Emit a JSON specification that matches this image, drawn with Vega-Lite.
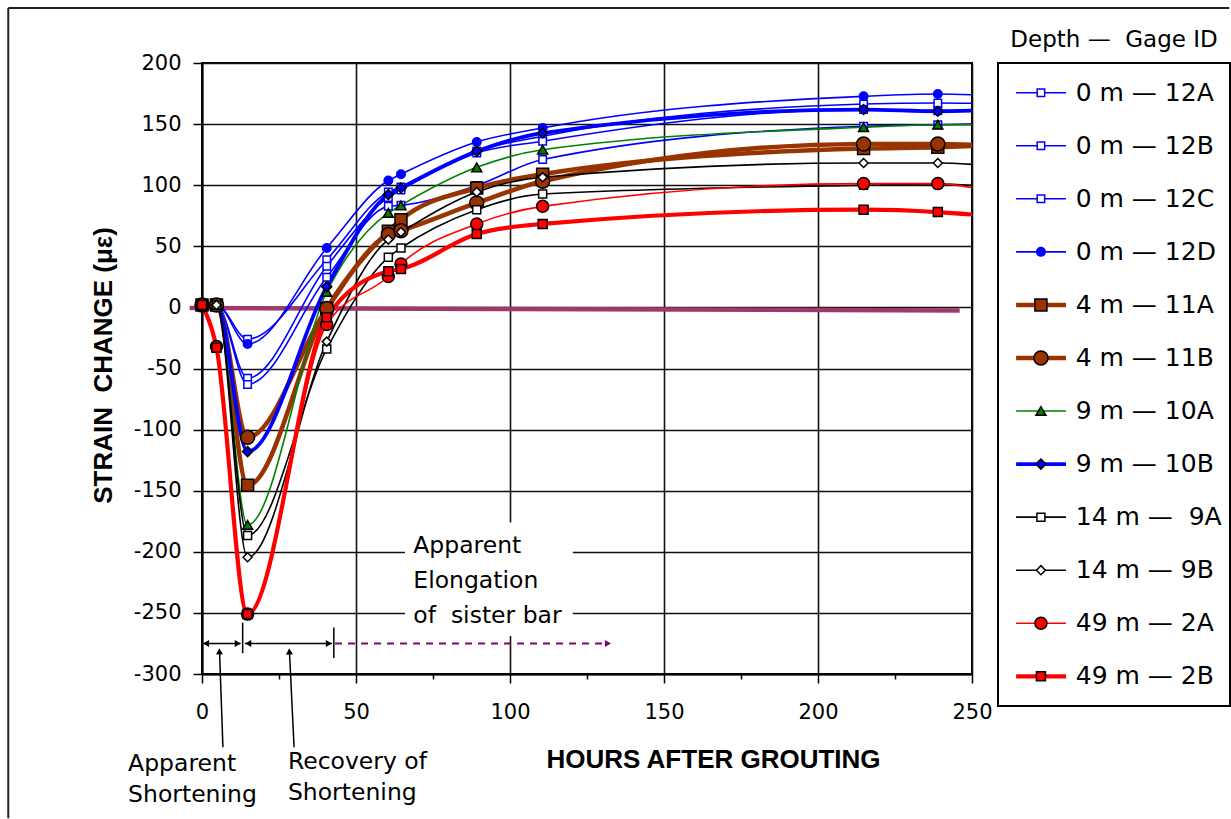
{
  "$schema": "https://vega.github.io/schema/vega-lite/v6.json",
  "background": "white",
  "padding": {"left": 6, "top": 6, "right": 0, "bottom": 0},
  "bounds": "flush",
  "spacing": 26,
  "config": {
    "view": {"stroke": "black", "strokeWidth": 2},
    "font": "DejaVu Sans",
    "text": {"font": "DejaVu Sans", "color": "black"}
  },
  "datasets": {
    "strain": [
      {"gage": "12A", "hours": 0, "strain": 2}, {"gage": "12A", "hours": 4.7, "strain": 2}, {"gage": "12A", "hours": 14.8, "strain": -26}, {"gage": "12A", "hours": 40.5, "strain": 39}, {"gage": "12A", "hours": 60.5, "strain": 94.5}, {"gage": "12A", "hours": 64.6, "strain": 98.5}, {"gage": "12A", "hours": 89.2, "strain": 128}, {"gage": "12A", "hours": 110.6, "strain": 140}, {"gage": "12A", "hours": 214.8, "strain": 166.4}, {"gage": "12A", "hours": 238.9, "strain": 167.3}, {"gage": "12A", "hours": 250, "strain": 167},
      {"gage": "12B", "hours": 0, "strain": 2}, {"gage": "12B", "hours": 4.7, "strain": 2}, {"gage": "12B", "hours": 14.8, "strain": -58}, {"gage": "12B", "hours": 40.5, "strain": 33.6}, {"gage": "12B", "hours": 60.5, "strain": 90}, {"gage": "12B", "hours": 64.6, "strain": 96}, {"gage": "12B", "hours": 89.2, "strain": 126.4}, {"gage": "12B", "hours": 110.6, "strain": 136}, {"gage": "12B", "hours": 214.8, "strain": 162}, {"gage": "12B", "hours": 238.9, "strain": 161}, {"gage": "12B", "hours": 250, "strain": 161},
      {"gage": "12C", "hours": 0, "strain": 2}, {"gage": "12C", "hours": 4.7, "strain": 2}, {"gage": "12C", "hours": 14.8, "strain": -63}, {"gage": "12C", "hours": 40.5, "strain": 24.6}, {"gage": "12C", "hours": 60.5, "strain": 82.7}, {"gage": "12C", "hours": 64.6, "strain": 83.5}, {"gage": "12C", "hours": 89.2, "strain": 99.7}, {"gage": "12C", "hours": 110.6, "strain": 121}, {"gage": "12C", "hours": 214.8, "strain": 148.2}, {"gage": "12C", "hours": 238.9, "strain": 149.5}, {"gage": "12C", "hours": 250, "strain": 150},
      {"gage": "12D", "hours": 0, "strain": 2}, {"gage": "12D", "hours": 4.7, "strain": 2}, {"gage": "12D", "hours": 14.8, "strain": -30}, {"gage": "12D", "hours": 40.5, "strain": 48.6}, {"gage": "12D", "hours": 60.5, "strain": 103.8}, {"gage": "12D", "hours": 64.6, "strain": 109}, {"gage": "12D", "hours": 89.2, "strain": 135.4}, {"gage": "12D", "hours": 110.6, "strain": 146.8}, {"gage": "12D", "hours": 214.8, "strain": 172.7}, {"gage": "12D", "hours": 238.9, "strain": 174.6}, {"gage": "12D", "hours": 250, "strain": 174},
      {"gage": "11A", "hours": 0, "strain": 2}, {"gage": "11A", "hours": 4.7, "strain": 2}, {"gage": "11A", "hours": 14.8, "strain": -145.6}, {"gage": "11A", "hours": 40.5, "strain": -1}, {"gage": "11A", "hours": 60.5, "strain": 62.3}, {"gage": "11A", "hours": 64.6, "strain": 71.8}, {"gage": "11A", "hours": 89.2, "strain": 97.7}, {"gage": "11A", "hours": 110.6, "strain": 109}, {"gage": "11A", "hours": 214.8, "strain": 130}, {"gage": "11A", "hours": 238.9, "strain": 131}, {"gage": "11A", "hours": 250, "strain": 132},
      {"gage": "11B", "hours": 0, "strain": 2}, {"gage": "11B", "hours": 4.7, "strain": 2}, {"gage": "11B", "hours": 14.8, "strain": -106.3}, {"gage": "11B", "hours": 40.5, "strain": -1}, {"gage": "11B", "hours": 60.5, "strain": 59.6}, {"gage": "11B", "hours": 64.6, "strain": 62.8}, {"gage": "11B", "hours": 89.2, "strain": 85.5}, {"gage": "11B", "hours": 110.6, "strain": 103.2}, {"gage": "11B", "hours": 214.8, "strain": 133.7}, {"gage": "11B", "hours": 238.9, "strain": 133.7}, {"gage": "11B", "hours": 250, "strain": 133},
      {"gage": "10A", "hours": 0, "strain": 2}, {"gage": "10A", "hours": 4.7, "strain": 2}, {"gage": "10A", "hours": 14.8, "strain": -178}, {"gage": "10A", "hours": 40.5, "strain": 12.6}, {"gage": "10A", "hours": 60.5, "strain": 77.3}, {"gage": "10A", "hours": 64.6, "strain": 83.5}, {"gage": "10A", "hours": 89.2, "strain": 114.6}, {"gage": "10A", "hours": 110.6, "strain": 129}, {"gage": "10A", "hours": 214.8, "strain": 147.4}, {"gage": "10A", "hours": 238.9, "strain": 149.5}, {"gage": "10A", "hours": 250, "strain": 149.5},
      {"gage": "10B", "hours": 0, "strain": 2}, {"gage": "10B", "hours": 4.7, "strain": 2}, {"gage": "10B", "hours": 14.8, "strain": -118}, {"gage": "10B", "hours": 40.5, "strain": 17}, {"gage": "10B", "hours": 60.5, "strain": 92.3}, {"gage": "10B", "hours": 64.6, "strain": 97.7}, {"gage": "10B", "hours": 89.2, "strain": 127.7}, {"gage": "10B", "hours": 110.6, "strain": 142.7}, {"gage": "10B", "hours": 214.8, "strain": 161.9}, {"gage": "10B", "hours": 238.9, "strain": 160.5}, {"gage": "10B", "hours": 250, "strain": 161},
      {"gage": "9A", "hours": 0, "strain": 2}, {"gage": "9A", "hours": 4.7, "strain": 2}, {"gage": "9A", "hours": 14.8, "strain": -186.6}, {"gage": "9A", "hours": 40.5, "strain": -34}, {"gage": "9A", "hours": 60.5, "strain": 41}, {"gage": "9A", "hours": 64.6, "strain": 48.6}, {"gage": "9A", "hours": 89.2, "strain": 80}, {"gage": "9A", "hours": 110.6, "strain": 92.8}, {"gage": "9A", "hours": 214.8, "strain": 100}, {"gage": "9A", "hours": 238.9, "strain": 101}, {"gage": "9A", "hours": 250, "strain": 100},
      {"gage": "9B", "hours": 0, "strain": 2}, {"gage": "9B", "hours": 4.7, "strain": 2}, {"gage": "9B", "hours": 14.8, "strain": -204.5}, {"gage": "9B", "hours": 40.5, "strain": -28}, {"gage": "9B", "hours": 60.5, "strain": 55.5}, {"gage": "9B", "hours": 64.6, "strain": 61.7}, {"gage": "9B", "hours": 89.2, "strain": 94.5}, {"gage": "9B", "hours": 110.6, "strain": 106.5}, {"gage": "9B", "hours": 214.8, "strain": 118.2}, {"gage": "9B", "hours": 238.9, "strain": 118.2}, {"gage": "9B", "hours": 250, "strain": 117},
      {"gage": "2A", "hours": 0, "strain": 2}, {"gage": "2A", "hours": 4.7, "strain": -32}, {"gage": "2A", "hours": 14.8, "strain": -251}, {"gage": "2A", "hours": 40.5, "strain": -14}, {"gage": "2A", "hours": 60.5, "strain": 25.3}, {"gage": "2A", "hours": 64.6, "strain": 35.5}, {"gage": "2A", "hours": 89.2, "strain": 68.3}, {"gage": "2A", "hours": 110.6, "strain": 82.7}, {"gage": "2A", "hours": 214.8, "strain": 101.3}, {"gage": "2A", "hours": 238.9, "strain": 101.3}, {"gage": "2A", "hours": 250, "strain": 98},
      {"gage": "2B", "hours": 0, "strain": 2}, {"gage": "2B", "hours": 4.7, "strain": -33}, {"gage": "2B", "hours": 14.8, "strain": -251}, {"gage": "2B", "hours": 40.5, "strain": -8}, {"gage": "2B", "hours": 60.5, "strain": 29.5}, {"gage": "2B", "hours": 64.6, "strain": 31.4}, {"gage": "2B", "hours": 89.2, "strain": 60}, {"gage": "2B", "hours": 110.6, "strain": 68.3}, {"gage": "2B", "hours": 214.8, "strain": 80}, {"gage": "2B", "hours": 238.9, "strain": 78}, {"gage": "2B", "hours": 250, "strain": 76}
    ],
    "gages": [
      {"gage": "12A", "label": "0 m — 12A"},
      {"gage": "12B", "label": "0 m — 12B"},
      {"gage": "12C", "label": "0 m — 12C"},
      {"gage": "12D", "label": "0 m — 12D"},
      {"gage": "11A", "label": "4 m — 11A"},
      {"gage": "11B", "label": "4 m — 11B"},
      {"gage": "10A", "label": "9 m — 10A"},
      {"gage": "10B", "label": "9 m — 10B"},
      {"gage": "9A", "label": "14 m —\u00a0 9A"},
      {"gage": "9B", "label": "14 m — 9B"},
      {"gage": "2A", "label": "49 m — 2A"},
      {"gage": "2B", "label": "49 m — 2B"}
    ]
  },
  "hconcat": [
    {
      "width": 770,
      "height": 611,
      "data": {"values": [{}]},
      "layer": [
        {
          "mark": {"type": "rule", "clip": false, "stroke": "#222222", "strokeWidth": 2},
          "encoding": {
            "x": {"datum": -62.9, "type": "quantitative"},
            "x2": {"datum": 333.5},
            "y": {"datum": 245, "type": "quantitative"}
          }
        },
        {
          "mark": {"type": "rule", "clip": false, "stroke": "#222222", "strokeWidth": 2},
          "encoding": {
            "x": {"datum": -62.9, "type": "quantitative"},
            "y": {"datum": 245, "type": "quantitative"},
            "y2": {"datum": -418}
          }
        },
        {
          "mark": {"type": "rect", "clip": false, "fill": "white", "stroke": null},
          "encoding": {
            "x": {"datum": 65.9, "type": "quantitative"},
            "x2": {"datum": 120.4},
            "y": {"datum": -176, "type": "quantitative"},
            "y2": {"datum": -269}
          }
        },
        {
          "mark": {"type": "rule", "clip": false, "stroke": "#9C3A6B", "strokeWidth": 4.5},
          "encoding": {
            "x": {"datum": -4, "type": "quantitative"},
            "x2": {"datum": 246},
            "y": {"datum": -0.5, "type": "quantitative"},
            "y2": {"datum": -2.5}
          }
        },
        {
          "data": {"name": "strain"},
          "mark": {"type": "line", "interpolate": "monotone", "clip": true},
          "encoding": {
            "x": {
              "field": "hours", "type": "quantitative",
              "scale": {"domain": [0, 250], "nice": false, "zero": false},
              "axis": {
                "title": "HOURS AFTER GROUTING",
                "values": [0, 25, 50, 75, 100, 125, 150, 175, 200, 225, 250],
                "labelExpr": "datum.value % 50 === 0 ? '' + datum.value : ''",
                "labelFont": "DejaVu Sans", "labelFontSize": 21, "labelColor": "black",
                "labelPadding": 18, "labelFlush": false, "labelOverlap": false, "labelBound": false,
                "tickColor": "black", "tickWidth": 1.5,
                "tickSize": {"condition": {"test": "datum.value % 50 === 0", "value": 9}, "value": 5},
                "grid": true, "gridColor": "#111111", "gridWidth": 1.6,
                "gridOpacity": {"condition": {"test": "datum.value % 50 === 0", "value": 1}, "value": 0},
                "domainColor": "black", "domainWidth": 2,
                "titleFont": "Liberation Sans", "titleFontWeight": "bold", "titleFontSize": 26, "titleColor": "black",
                "titleX": 511, "titleY": 93, "titleBaseline": "alphabetic", "titleAlign": "center"
              }
            },
            "y": {
              "field": "strain", "type": "quantitative",
              "scale": {"domain": [-300, 200], "nice": false, "zero": false},
              "axis": {
                "title": "STRAIN \u00a0CHANGE (με)",
                "values": [-300, -275, -250, -225, -200, -175, -150, -125, -100, -75, -50, -25, 0, 25, 50, 75, 100, 125, 150, 175, 200],
                "labelExpr": "datum.value % 50 === 0 ? '' + datum.value : ''",
                "labelFont": "DejaVu Sans", "labelFontSize": 21, "labelColor": "black",
                "labelPadding": 12, "labelOverlap": false, "labelBound": false, "labelFlush": false,
                "tickColor": "black", "tickWidth": 1.5,
                "tickSize": {"condition": {"test": "datum.value % 50 === 0", "value": 9}, "value": 6},
                "grid": true, "gridColor": "#111111", "gridWidth": 1.6,
                "gridOpacity": {"condition": {"test": "datum.value % 50 === 0", "value": 1}, "value": 0},
                "domainColor": "black", "domainWidth": 2,
                "titleFont": "Liberation Sans", "titleFontWeight": "bold", "titleFontSize": 26, "titleColor": "black",
                "titleX": -91, "titleY": 302, "titleBaseline": "alphabetic", "titleAlign": "center", "titleAngle": -90
              }
            },
            "color": {
              "field": "gage", "type": "nominal", "legend": null,
              "scale": {
                "domain": ["12A", "12B", "12C", "12D", "11A", "11B", "10A", "10B", "9A", "9B", "2A", "2B"],
                "range": ["#0000FF", "#0000FF", "#0000FF", "#0000FF", "#993300", "#993300", "#008000", "#0000FF", "#000000", "#000000", "#FF0000", "#FF0000"]
              }
            },
            "strokeWidth": {
              "field": "gage", "type": "nominal", "legend": null,
              "scale": {
                "type": "ordinal",
                "domain": ["12A", "12B", "12C", "12D", "11A", "11B", "10A", "10B", "9A", "9B", "2A", "2B"],
                "range": [1.6, 1.6, 1.6, 1.6, 4.5, 4.5, 1.6, 3.8, 1.6, 1.6, 1.6, 4.2]
              }
            }
          }
        },
        {
          "data": {"name": "strain"},
          "transform": [{"filter": "datum.hours < 250"}],
          "mark": {"type": "point", "filled": true, "opacity": 1, "strokeWidth": 1.5, "clip": false},
          "encoding": {
            "x": {"field": "hours", "type": "quantitative"},
            "y": {"field": "strain", "type": "quantitative"},
            "fill": {
              "field": "gage", "type": "nominal", "legend": null,
              "scale": {
                "domain": ["12A", "12B", "12C", "12D", "11A", "11B", "10A", "10B", "9A", "9B", "2A", "2B"],
                "range": ["#FFFFFF", "#FFFFFF", "#FFFFFF", "#0000FF", "#993300", "#993300", "#008000", "#0000FF", "#FFFFFF", "#FFFFFF", "#FF0000", "#FF0000"]
              }
            },
            "stroke": {
              "field": "gage", "type": "nominal", "legend": null,
              "scale": {
                "domain": ["12A", "12B", "12C", "12D", "11A", "11B", "10A", "10B", "9A", "9B", "2A", "2B"],
                "range": ["#0000FF", "#0000FF", "#0000FF", "#0000FF", "#000000", "#000000", "#000000", "#000000", "#000000", "#000000", "#000000", "#000000"]
              }
            },
            "shape": {
              "field": "gage", "type": "nominal", "legend": null,
              "scale": {
                "domain": ["12A", "12B", "12C", "12D", "11A", "11B", "10A", "10B", "9A", "9B", "2A", "2B"],
                "range": ["square", "square", "square", "circle", "square", "circle", "triangle-up", "diamond", "square", "diamond", "circle", "square"]
              }
            },
            "size": {
              "field": "gage", "type": "nominal", "legend": null,
              "scale": {
                "type": "ordinal",
                "domain": ["12A", "12B", "12C", "12D", "11A", "11B", "10A", "10B", "9A", "9B", "2A", "2B"],
                "range": [56, 56, 56, 72, 144, 196, 100, 100, 64, 81, 144, 81]
              }
            }
          }
        },
        {
          "mark": {"type": "text", "clip": false, "align": "left", "baseline": "alphabetic", "fontSize": 23.5, "lineBreak": "\n", "lineHeight": 35},
          "encoding": {
            "x": {"datum": 68.6, "type": "quantitative"},
            "y": {"datum": -201, "type": "quantitative"},
            "text": {"value": "Apparent\nElongation\nof \u00a0sister bar"}
          }
        },
        {
          "mark": {"type": "rule", "clip": false, "stroke": "black", "strokeWidth": 1.6},
          "encoding": {
            "x": {"datum": 0.5, "type": "quantitative"},
            "x2": {"datum": 12.5},
            "y": {"datum": -275, "type": "quantitative"}
          }
        },
        {
          "mark": {"type": "rule", "clip": false, "stroke": "black", "strokeWidth": 1.6},
          "encoding": {
            "x": {"datum": 13.9, "type": "quantitative"},
            "x2": {"datum": 42.2},
            "y": {"datum": -275, "type": "quantitative"}
          }
        },
        {
          "mark": {"type": "rule", "clip": false, "stroke": "black", "strokeWidth": 1.5},
          "encoding": {
            "x": {"datum": 13.2, "type": "quantitative"},
            "y": {"datum": -258, "type": "quantitative"},
            "y2": {"datum": -283}
          }
        },
        {
          "mark": {"type": "rule", "clip": false, "stroke": "black", "strokeWidth": 1.5},
          "encoding": {
            "x": {"datum": 42.8, "type": "quantitative"},
            "y": {"datum": -262, "type": "quantitative"},
            "y2": {"datum": -287}
          }
        },
        {
          "mark": {"type": "point", "clip": false, "shape": "triangle-left", "filled": true, "opacity": 1, "color": "black", "size": 50},
          "encoding": {
            "x": {"datum": 1.3, "type": "quantitative"},
            "y": {"datum": -275, "type": "quantitative"}
          }
        },
        {
          "mark": {"type": "point", "clip": false, "shape": "triangle-right", "filled": true, "opacity": 1, "color": "black", "size": 50},
          "encoding": {
            "x": {"datum": 11.6, "type": "quantitative"},
            "y": {"datum": -275, "type": "quantitative"}
          }
        },
        {
          "mark": {"type": "point", "clip": false, "shape": "triangle-left", "filled": true, "opacity": 1, "color": "black", "size": 50},
          "encoding": {
            "x": {"datum": 15.0, "type": "quantitative"},
            "y": {"datum": -275, "type": "quantitative"}
          }
        },
        {
          "mark": {"type": "point", "clip": false, "shape": "triangle-right", "filled": true, "opacity": 1, "color": "black", "size": 50},
          "encoding": {
            "x": {"datum": 41.2, "type": "quantitative"},
            "y": {"datum": -275, "type": "quantitative"}
          }
        },
        {
          "mark": {"type": "rule", "clip": false, "stroke": "#800080", "strokeWidth": 2, "strokeDash": [7, 6]},
          "encoding": {
            "x": {"datum": 43.2, "type": "quantitative"},
            "x2": {"datum": 131},
            "y": {"datum": -275, "type": "quantitative"}
          }
        },
        {
          "mark": {"type": "point", "clip": false, "shape": "triangle-right", "filled": true, "opacity": 1, "color": "#800080", "size": 50},
          "encoding": {
            "x": {"datum": 131.8, "type": "quantitative"},
            "y": {"datum": -275, "type": "quantitative"}
          }
        },
        {
          "mark": {"type": "rule", "clip": false, "stroke": "black", "strokeWidth": 1.5},
          "encoding": {
            "x": {"datum": 6.8, "type": "quantitative"},
            "x2": {"datum": 5.7},
            "y": {"datum": -360, "type": "quantitative"},
            "y2": {"datum": -282}
          }
        },
        {
          "mark": {"type": "point", "clip": false, "shape": "triangle-up", "filled": true, "opacity": 1, "color": "black", "size": 50, "angle": -2},
          "encoding": {
            "x": {"datum": 5.65, "type": "quantitative"},
            "y": {"datum": -281.5, "type": "quantitative"}
          }
        },
        {
          "mark": {"type": "rule", "clip": false, "stroke": "black", "strokeWidth": 1.5},
          "encoding": {
            "x": {"datum": 29.9, "type": "quantitative"},
            "x2": {"datum": 28.4},
            "y": {"datum": -360, "type": "quantitative"},
            "y2": {"datum": -282}
          }
        },
        {
          "mark": {"type": "point", "clip": false, "shape": "triangle-up", "filled": true, "opacity": 1, "color": "black", "size": 50, "angle": -3},
          "encoding": {
            "x": {"datum": 28.35, "type": "quantitative"},
            "y": {"datum": -281.5, "type": "quantitative"}
          }
        },
        {
          "mark": {"type": "text", "clip": false, "align": "left", "baseline": "alphabetic", "fontSize": 23.5, "lineBreak": "\n", "lineHeight": 31},
          "encoding": {
            "x": {"datum": -24, "type": "quantitative"},
            "y": {"datum": -379.6, "type": "quantitative"},
            "text": {"value": "Apparent\nShortening"}
          }
        },
        {
          "mark": {"type": "text", "clip": false, "align": "left", "baseline": "alphabetic", "fontSize": 23.5, "lineBreak": "\n", "lineHeight": 31},
          "encoding": {
            "x": {"datum": 27.9, "type": "quantitative"},
            "y": {"datum": -378, "type": "quantitative"},
            "text": {"value": "Recovery of\nShortening"}
          }
        }
      ]
    },
    {
      "width": 232,
      "height": 643,
      "title": {
        "text": "Depth —\u00a0 Gage ID",
        "font": "DejaVu Sans", "fontSize": 23, "fontWeight": "normal", "color": "black",
        "anchor": "middle", "baseline": "alphabetic", "offset": -7
      },
      "data": {"name": "gages"},
      "encoding": {
        "y": {
          "field": "gage", "type": "nominal", "axis": null,
          "scale": {"type": "point", "padding": 0.56, "domain": ["12A", "12B", "12C", "12D", "11A", "11B", "10A", "10B", "9A", "9B", "2A", "2B"]}
        }
      },
      "layer": [
        {
          "mark": {"type": "rule"},
          "encoding": {
            "x": {"datum": 7.8, "type": "quantitative", "scale": {"domain": [0, 100]}, "axis": null},
            "x2": {"datum": 29.3},
            "color": {
              "field": "gage", "type": "nominal", "legend": null,
              "scale": {
                "domain": ["12A", "12B", "12C", "12D", "11A", "11B", "10A", "10B", "9A", "9B", "2A", "2B"],
                "range": ["#0000FF", "#0000FF", "#0000FF", "#0000FF", "#993300", "#993300", "#008000", "#0000FF", "#000000", "#000000", "#FF0000", "#FF0000"]
              }
            },
            "strokeWidth": {
              "field": "gage", "type": "nominal", "legend": null,
              "scale": {
                "type": "ordinal",
                "domain": ["12A", "12B", "12C", "12D", "11A", "11B", "10A", "10B", "9A", "9B", "2A", "2B"],
                "range": [1.6, 1.6, 1.6, 1.6, 4.5, 4.5, 1.6, 3.8, 1.6, 1.6, 1.6, 4.2]
              }
            }
          }
        },
        {
          "mark": {"type": "point", "filled": true, "opacity": 1, "strokeWidth": 1.5},
          "encoding": {
            "x": {"datum": 18.5, "type": "quantitative"},
            "fill": {
              "field": "gage", "type": "nominal", "legend": null,
              "scale": {
                "domain": ["12A", "12B", "12C", "12D", "11A", "11B", "10A", "10B", "9A", "9B", "2A", "2B"],
                "range": ["#FFFFFF", "#FFFFFF", "#FFFFFF", "#0000FF", "#993300", "#993300", "#008000", "#0000FF", "#FFFFFF", "#FFFFFF", "#FF0000", "#FF0000"]
              }
            },
            "stroke": {
              "field": "gage", "type": "nominal", "legend": null,
              "scale": {
                "domain": ["12A", "12B", "12C", "12D", "11A", "11B", "10A", "10B", "9A", "9B", "2A", "2B"],
                "range": ["#0000FF", "#0000FF", "#0000FF", "#0000FF", "#000000", "#000000", "#000000", "#000000", "#000000", "#000000", "#000000", "#000000"]
              }
            },
            "shape": {
              "field": "gage", "type": "nominal", "legend": null,
              "scale": {
                "domain": ["12A", "12B", "12C", "12D", "11A", "11B", "10A", "10B", "9A", "9B", "2A", "2B"],
                "range": ["square", "square", "square", "circle", "square", "circle", "triangle-up", "diamond", "square", "diamond", "circle", "square"]
              }
            },
            "size": {
              "field": "gage", "type": "nominal", "legend": null,
              "scale": {
                "type": "ordinal",
                "domain": ["12A", "12B", "12C", "12D", "11A", "11B", "10A", "10B", "9A", "9B", "2A", "2B"],
                "range": [56, 56, 56, 72, 144, 196, 100, 100, 64, 81, 144, 81]
              }
            }
          }
        },
        {
          "mark": {"type": "text", "align": "left", "baseline": "middle", "fontSize": 25, "color": "black"},
          "encoding": {
            "x": {"datum": 33.5, "type": "quantitative"},
            "text": {"field": "label", "type": "nominal"}
          }
        }
      ]
    }
  ]
}
